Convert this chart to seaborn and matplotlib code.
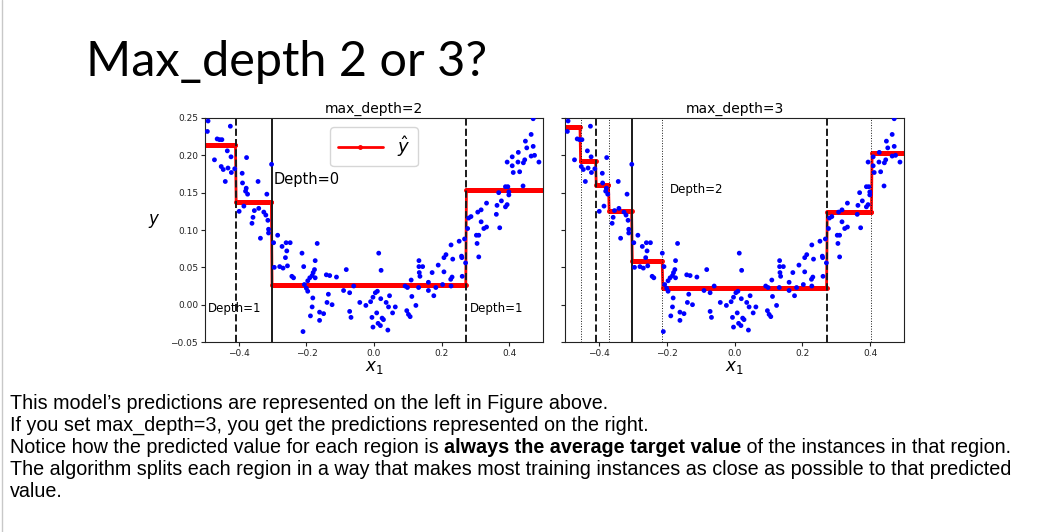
import matplotlib
matplotlib.use("Agg")
import matplotlib.pyplot as plt
import seaborn as sns
import numpy as np
import pandas as pd

# training points (same set in both panels)
x_pts = [-0.491, -0.493, -0.425, -0.464, -0.457, -0.450, -0.472, -0.434, -0.423, -0.452,
         -0.446, -0.432, -0.440, -0.422, -0.412, -0.390, -0.377, -0.389, -0.378, -0.380,
         -0.374, -0.399, -0.385, -0.343, -0.354, -0.341, -0.326, -0.320, -0.358, -0.361,
         -0.336, -0.317, -0.314, -0.312, -0.312, -0.303,
         -0.297, -0.285, -0.272, -0.260, -0.248, -0.258, -0.262, -0.279, -0.295, -0.269,
         -0.256, -0.243, -0.238,
         -0.213, -0.208, -0.210, -0.206, -0.200, -0.196, -0.196, -0.190, -0.183, -0.180,
         -0.176, -0.174, -0.174, -0.168, -0.181, -0.183, -0.188, -0.161, -0.149, -0.161,
         -0.141, -0.131, -0.111, -0.135, -0.139, -0.124, -0.082, -0.090, -0.072, -0.060,
         -0.072, -0.068, -0.042, -0.024, -0.010, -0.003, 0.004, 0.010, 0.014, 0.021,
         0.020, 0.008, -0.006, -0.003, 0.012, 0.019, 0.024, 0.028, 0.036, 0.046,
         0.041, 0.043, 0.055, 0.063, 0.092, 0.099, 0.110, 0.112, 0.097, 0.102,
         0.107, 0.124, 0.133, 0.133, 0.134, 0.136, 0.144, 0.132, 0.161, 0.161,
         0.172, 0.177, 0.183, 0.190, 0.203, 0.207, 0.207, 0.213, 0.228, 0.233,
         0.227, 0.231, 0.228, 0.252, 0.259, 0.261, 0.271, 0.260, 0.268,
         0.280, 0.287, 0.277, 0.307, 0.317, 0.333, 0.317, 0.325, 0.333, 0.303,
         0.310, 0.305, 0.310, 0.372, 0.362, 0.364, 0.377, 0.369, 0.389, 0.394,
         0.399, 0.399, 0.389, 0.396, 0.441, 0.394, 0.409, 0.409, 0.412, 0.426,
         0.427, 0.431, 0.442, 0.446, 0.448, 0.452, 0.465, 0.471, 0.471, 0.475,
         0.465, 0.488]
y_pts = [0.246, 0.232, 0.239, 0.222, 0.221, 0.221, 0.194, 0.206, 0.198, 0.185,
         0.181, 0.183, 0.165, 0.177, 0.182, 0.176, 0.197, 0.163, 0.156, 0.152,
         0.148, 0.125, 0.132, 0.165, 0.126, 0.129, 0.124, 0.120, 0.117, 0.109,
         0.089, 0.148, 0.113, 0.101, 0.096, 0.188,
         0.083, 0.093, 0.078, 0.083, 0.083, 0.072, 0.063, 0.051, 0.050, 0.049,
         0.052, 0.038, 0.036,
         0.069, 0.051, -0.036, 0.027, 0.022, 0.018, 0.032, 0.036, 0.039, 0.043,
         0.047, 0.059, 0.036, 0.082, 0.009, -0.003, -0.015, -0.010, -0.012, -0.021,
         0.040, 0.039, 0.037, 0.014, 0.003, -0.000, 0.047, 0.019, 0.016, 0.025,
         -0.009, -0.017, 0.003, -0.001, 0.004, 0.010, 0.016, 0.018, 0.069, 0.046,
         0.008, -0.011, -0.017, -0.030, -0.025, -0.028, -0.018, -0.020, 0.003, 0.012,
         -0.034, -0.003, -0.011, -0.003, 0.025, 0.023, 0.033, 0.011, -0.008, -0.013,
         -0.016, -0.001, 0.059, 0.051, 0.043, 0.038, 0.051, 0.023, 0.030, 0.019,
         0.043, 0.012, 0.023, 0.053, 0.027, 0.044, 0.063, 0.067, 0.080, 0.061,
         0.034, 0.037, 0.025, 0.085, 0.065, 0.038, 0.056, 0.063, 0.088,
         0.116, 0.118, 0.102, 0.124, 0.127, 0.136, 0.111, 0.102, 0.104, 0.093,
         0.093, 0.082, 0.064, 0.103, 0.121, 0.133, 0.139, 0.150, 0.131, 0.134,
         0.147, 0.151, 0.158, 0.158, 0.159, 0.191, 0.198, 0.186, 0.177, 0.191,
         0.204, 0.178, 0.190, 0.194, 0.219, 0.210, 0.228, 0.212, 0.249, 0.200,
         0.199, 0.191]

# tree splits and leaf values
splits_d2 = [-0.4083, -0.3027, 0.2718]
leaves_d2 = [0.214, 0.138, 0.027, 0.154]
splits_d3 = [-0.4542, -0.4083, -0.3702, -0.3027, -0.2127, 0.2718, 0.4040]
leaves_d3 = [0.238, 0.192, 0.160, 0.126, 0.059, 0.022, 0.124, 0.203]
dotted_d3 = [-0.4542, -0.3702, -0.2127, 0.4040]

xticks = [-0.4, -0.2, 0.0, 0.2, 0.4]
yticks = [-0.05, 0.00, 0.05, 0.10, 0.15, 0.20, 0.25]

text_lines = [
    "This model\u2019s predictions are represented on the left in Figure above.",
    "If you set max_depth=3, you get the predictions represented on the right.",
    None,
    "The algorithm splits each region in a way that makes most training instances as close as possible to that predicted",
    "value.",
]

sns.set_theme(style="ticks")
plt.rcParams["font.family"] = ["DejaVu Sans"]
plt.rcParams["text.color"] = "black"
plt.rcParams["xtick.color"] = "#222222"
plt.rcParams["ytick.color"] = "#222222"
plt.rcParams["axes.labelcolor"] = "black"

df = pd.DataFrame({"x1": x_pts, "y": y_pts})
x_grid = np.linspace(-0.5, 0.5, 500)

fig = plt.figure(figsize=(10.39, 5.32), dpi=100)
ax1 = fig.add_axes([0.1973, 0.3571, 0.3253, 0.4211])
ax2 = fig.add_axes([0.5438, 0.3571, 0.3263, 0.4211])


def draw_panel(ax, splits, leaves):
    y_pred = np.array(leaves)[np.searchsorted(splits, x_grid)]
    sns.scatterplot(data=df, x="x1", y="y", ax=ax, color="blue", s=12,
                    edgecolor="none", legend=False, zorder=3)
    ax.plot(x_grid, y_pred, color="red", marker=".", ms=5, lw=2,
            label=r"$\hat{y}$", zorder=2)
    ax.set_xlim(-0.5, 0.5)
    ax.set_ylim(-0.05, 0.25)
    ax.set_xticks(xticks)
    ax.set_yticks(yticks)
    ax.set_xticklabels([f"{t:.1f}".replace("-", "\u2212") for t in xticks])
    ax.tick_params(labelsize=6.5, length=3, width=0.8, pad=2)
    ax.set_xlabel("$x_1$", fontsize=12, labelpad=0)
    for s in ax.spines.values():
        s.set_color("#222222")
        s.set_linewidth(0.8)


# left: max_depth=2
draw_panel(ax1, splits_d2, leaves_d2)
ax1.set_yticklabels([f"{t:.2f}".replace("-", "\u2212") for t in yticks])
ax1.set_ylabel("$y$", fontsize=12, rotation=0, labelpad=12)
ax1.vlines(splits_d2[1], -0.05, 0.25, colors="k", linestyles="-", lw=1.4)
ax1.vlines([splits_d2[0], splits_d2[2]], -0.05, 0.25, colors="k",
           linestyles="--", lw=1.4)
ax1.text(-0.298, 0.161, "Depth=0", fontsize=10.5)
ax1.text(-0.49, -0.01, "Depth=1", fontsize=8.5)
ax1.text(0.285, -0.01, "Depth=1", fontsize=8.5)
ax1.legend(loc="upper center", fontsize=13, handlelength=2.5,
           borderpad=0.4, frameon=True)
ax1.set_title("max_depth=2", fontsize=10, pad=4)

# right: max_depth=3
draw_panel(ax2, splits_d3, leaves_d3)
ax2.set_yticklabels([])
ax2.set_ylabel("")
ax2.vlines(splits_d2[1], -0.05, 0.25, colors="k", linestyles="-", lw=1.4)
ax2.vlines([splits_d2[0], splits_d2[2]], -0.05, 0.25, colors="k",
           linestyles="--", lw=1.4)
ax2.vlines(dotted_d3, -0.05, 0.25, colors="k", linestyles=":", lw=0.7)
ax2.text(-0.19, 0.150, "Depth=2", fontsize=8.5)
ax2.set_title("max_depth=3", fontsize=10, pad=4)

# slide title and body text
fig.text(86 / 1039, 1 - 76 / 532, "Max_depth 2 or 3?", fontsize=35,
         va="baseline", family=["Lato", "DejaVu Sans"], color="black")
baselines = [409, 431, 453, 475, 497]
body_font = ["Liberation Sans", "DejaVu Sans"]
body_size = 14.2
for line, b in zip(text_lines, baselines):
    if line is not None:
        fig.text(10 / 1039, 1 - b / 532, line, fontsize=body_size,
                 va="baseline", family=body_font)

# third line has a bold run in the middle
b3 = 1 - baselines[2] / 532
t = fig.text(10 / 1039, b3, "Notice how the predicted value for each region is ",
             fontsize=body_size, va="baseline", family=body_font)
fig.canvas.draw()
r = fig.canvas.get_renderer()
x_next = t.get_window_extent(r).x1 / fig.bbox.width
t2 = fig.text(x_next, b3, "always the average target value", fontsize=body_size,
              va="baseline", family=body_font, weight="bold")
x_next = t2.get_window_extent(r).x1 / fig.bbox.width
fig.text(x_next, b3, " of the instances in that region.", fontsize=body_size,
         va="baseline", family=body_font)

# slide frame edge on the left
fig.add_artist(plt.Line2D([2 / 1039, 2 / 1039], [0, 1], color="#c8c8c8", lw=1))

fig.savefig("out.png", dpi=100)
